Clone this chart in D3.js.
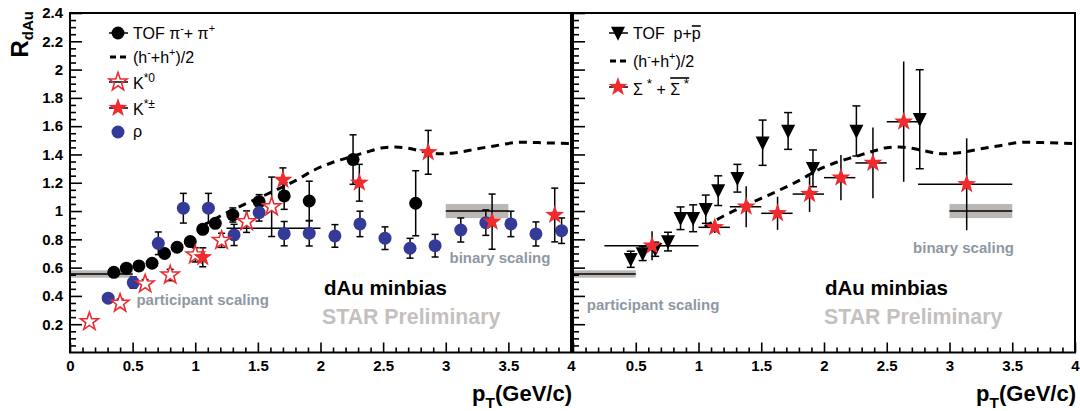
<!DOCTYPE html>
<html><head><meta charset="utf-8">
<script src="https://cdn.jsdelivr.net/npm/d3@7"></script>
<style>
body{margin:0;background:#fff}
svg{display:block}
text{font-family:"Liberation Sans",Arial,Helvetica,sans-serif}
</style>
</head><body>
<svg id="c" width="1080" height="411"></svg>
<script>
// ---------------- data ----------------
const xTicks = [0, 0.5, 1, 1.5, 2, 2.5, 3, 3.5, 4];
const xTickLabels = ["0", "0.5", "1", "1.5", "2", "2.5", "3", "3.5", "4"];
const yTicks = [0.2, 0.4, 0.6, 0.8, 1, 1.2, 1.4, 1.6, 1.8, 2, 2.2, 2.4];
const yTickLabels = ["0.2", "0.4", "0.6", "0.8", "1", "1.2", "1.4", "1.6", "1.8", "2", "2.2", "2.4"];

// left panel: TOF pi- + pi+
const pionPt  = [0.35, 0.45, 0.55, 0.655, 0.755, 0.855, 0.96, 1.06, 1.16, 1.30, 1.51, 1.71, 1.91, 2.26, 2.76];
const pionR   = [0.567, 0.596, 0.612, 0.631, 0.70, 0.744, 0.784, 0.871, 0.913, 0.972, 1.066, 1.107, 1.071, 1.364, 1.055];
const pionErr = [0.01, 0.01, 0.01, 0.01, 0.01, 0.01, 0.01, 0.015, 0.02, 0.05, 0.05, 0.095, 0.14, 0.175, 0.23];

// left panel: K*0 (open stars)
const k0Pt  = [0.155, 0.40, 0.60, 0.80, 1.00, 1.21, 1.41, 1.61];
const k0R   = [0.218, 0.348, 0.485, 0.548, 0.69, 0.793, 0.925, 1.03];
const k0Err = [0.02, 0.03, 0.03, 0.04, 0.05, 0.05, 0.076, 0.21];

// left panel: K*+- (filled stars)
const kpmPt  = [1.06, 1.70, 2.31, 2.86, 3.37, 3.87];
const kpmR   = [0.673, 1.22, 1.20, 1.415, 0.925, 0.972];
const kpmErr = [0.067, 0.085, 0.13, 0.155, 0.195, 0.19];

// left panel: wide-bin horizontal bar
const wideLo = [1.25];
const wideHi = [2.0];
const wideR  = [0.878];

// left panel: rho
const rhoPt  = [0.305, 0.505, 0.705, 0.905, 1.105, 1.31, 1.51, 1.71, 1.91, 2.115, 2.315, 2.515, 2.715, 2.915, 3.12, 3.32, 3.52, 3.72, 3.925];
const rhoR   = [0.384, 0.494, 0.772, 1.02, 1.02, 0.831, 0.989, 0.84, 0.843, 0.824, 0.909, 0.808, 0.737, 0.755, 0.866, 0.918, 0.909, 0.838, 0.861];
const rhoErr = [0.02, 0.04, 0.08, 0.105, 0.105, 0.075, 0.06, 0.086, 0.09, 0.08, 0.09, 0.08, 0.07, 0.08, 0.085, 0.09, 0.09, 0.085, 0.09];

// both panels: (h- + h+)/2
const hPt = [1.05, 1.2, 1.35, 1.5, 1.65, 1.8, 1.95, 2.1, 2.25, 2.4, 2.5, 2.6, 2.7, 2.8, 2.95, 3.1, 3.25, 3.4, 3.6, 3.8, 4.0];
const hR  = [0.89, 0.965, 1.03, 1.09, 1.15, 1.215, 1.29, 1.345, 1.385, 1.425, 1.448, 1.452, 1.444, 1.425, 1.405, 1.415, 1.44, 1.462, 1.487, 1.482, 1.477];

// right panel: TOF p + pbar
const protPt  = [0.46, 0.555, 0.655, 0.757, 0.857, 0.957, 1.058, 1.157, 1.31, 1.511, 1.714, 1.912, 2.258, 2.763];
const protR   = [0.659, 0.70, 0.73, 0.784, 0.949, 0.949, 1.013, 1.144, 1.232, 1.483, 1.566, 1.302, 1.566, 1.649];
const protErr = [0.057, 0.05, 0.05, 0.066, 0.08, 0.095, 0.1, 0.105, 0.098, 0.16, 0.13, 0.13, 0.177, 0.35];

// right panel: Sigma* + antiSigma*
const sigPt  = [0.63, 1.13, 1.38, 1.63, 1.885, 2.135, 2.39, 2.635, 3.137];
const sigLo  = [0.25, 1.0, 1.25, 1.5, 1.75, 2.0, 2.25, 2.5, 2.75];
const sigHi  = [1.0, 1.25, 1.5, 1.75, 2.0, 2.25, 2.5, 2.75, 3.5];
const sigR   = [0.755, 0.885, 1.031, 0.984, 1.12, 1.236, 1.34, 1.632, 1.189];
const sigErr = [0.103, 0.04, 0.145, 0.117, 0.126, 0.16, 0.25, 0.425, 0.325];

// scaling bands
const partBand = {lo: 0, hi: 0.5, r: 0.555, half: 0.026};
const binBand  = {lo: 3.0, hi: 3.5, r: 1.0, half: 0.05};

// ---------------- drawing ----------------
const svg = d3.select("#c");
const y = d3.scaleLinear().domain([0, 2.4]).range([352.5, 13]);
const xL = d3.scaleLinear().domain([0, 4]).range([70, 571]);
const xR = d3.scaleLinear().domain([0, 4]).range([573, 1075]);

const RED = "#ee2b2f", BLUE = "#343a98", BAND = "#bbb7b4", NOTE = "#8e98a3", PRELIM = "#c4c0bd";

function starPath(R) {
  const r = R * 0.4, p = [];
  for (let i = 0; i < 10; i++) {
    const a = -Math.PI / 2 + i * Math.PI / 5, rad = i % 2 ? r : R;
    p.push([rad * Math.cos(a), rad * Math.sin(a)]);
  }
  return "M" + p.map(q => q[0].toFixed(2) + "," + q[1].toFixed(2)).join("L") + "Z";
}
function triPath(w, h) {
  return `M${-w/2},${-h*0.45}L${w/2},${-h*0.45}L0,${h*0.55}Z`;
}

function richText(g, x, yy, parts, size, weight, color) {
  const t = g.append("text").attr("x", x).attr("y", yy)
    .style("font-size", size + "px").style("font-weight", weight || "normal")
    .attr("fill", color || "#000");
  let shift = 0;
  const overs = [];
  parts.forEach(p => {
    const want = p.s === "sup" ? -size * 0.42 : p.s === "sub" ? size * 0.3 : 0;
    const ts = t.append("tspan").text(p.t).attr("dy", want - shift)
      .style("font-size", (p.s ? size * (p.k || 0.68) : size) + "px");
    shift = want;
    if (p.o) overs.push({node: ts.node(), o: p.o});
  });
  return {t, overs};
}

function ticks(g, x, isLeft) {
  const minorX = d3.range(0, 41).map(i => i / 10).filter(v => Math.abs(v * 2 - Math.round(v * 2)) > 1e-6);
  const minorY = d3.range(1, 49).map(i => i / 20).filter(v => Math.abs(v * 5 - Math.round(v * 5)) > 1e-6);
  const ax = g.append("g").attr("transform", `translate(0,${y(0)})`)
    .call(d3.axisBottom(x).tickValues(xTicks).tickSize(-10).tickPadding(8)
      .tickFormat((d, i) => (!isLeft && i === 0) ? "" : xTickLabels[i]));
  const axm = g.append("g").attr("transform", `translate(0,${y(0)})`)
    .call(d3.axisBottom(x).tickValues(minorX).tickSize(-5).tickFormat(""));
  const ay = g.append("g").attr("transform", `translate(${x(0)},0)`)
    .call(d3.axisLeft(y).tickValues(yTicks).tickSize(-12).tickPadding(7)
      .tickFormat((d, i) => isLeft ? yTickLabels[i] : ""));
  const aym = g.append("g").attr("transform", `translate(${x(0)},0)`)
    .call(d3.axisLeft(y).tickValues(minorY).tickSize(-6).tickFormat(""));
  [ax, axm, ay, aym].forEach(a => {
    a.select(".domain").remove();
    a.selectAll("line").attr("stroke", "#000").attr("stroke-width", 1.6);
    a.selectAll("text").attr("fill", "#000").style("font-size", "15px").style("font-weight", "bold")
      .style("font-family", '"Liberation Sans",Arial,sans-serif');
  });
  g.append("rect").attr("x", x(0)).attr("y", y(2.4)).attr("width", x(4) - x(0)).attr("height", y(0) - y(2.4))
    .attr("fill", "none").attr("stroke", "#000").attr("stroke-width", 2);
  // x title
  const tt = richText(g, 0, 401, [{t: "p"}, {t: "T", s: "sub", k: 0.7}, {t: "(GeV/c)"}], 22, "bold");
  tt.t.attr("text-anchor", "end").attr("x", x(4) + 1);
}

function band(g, x, b) {
  g.append("rect").attr("x", x(b.lo)).attr("width", x(b.hi) - x(b.lo))
    .attr("y", y(b.r + b.half)).attr("height", y(b.r - b.half) - y(b.r + b.half)).attr("fill", BAND);
  g.append("line").attr("x1", x(b.lo)).attr("x2", x(b.hi)).attr("y1", y(b.r)).attr("y2", y(b.r))
    .attr("stroke", "#000").attr("stroke-width", 1.5);
}

function errBars(g, x, pts, vals, errs, cap) {
  const gg = g.append("g").attr("stroke", "#000").attr("stroke-width", 1.5);
  pts.forEach((p, i) => {
    const X = x(p), y1 = y(vals[i] + errs[i]), y2 = y(vals[i] - errs[i]);
    gg.append("line").attr("x1", X).attr("x2", X).attr("y1", y1).attr("y2", y2);
    if (cap) {
      gg.append("line").attr("x1", X - cap / 2).attr("x2", X + cap / 2).attr("y1", y1).attr("y2", y1);
      gg.append("line").attr("x1", X - cap / 2).attr("x2", X + cap / 2).attr("y1", y2).attr("y2", y2);
    }
  });
}

function hLine(g, x) {
  const line = d3.line().x((d, i) => x(hPt[i])).y((d, i) => y(hR[i])).curve(d3.curveMonotoneX);
  g.append("path").attr("d", line(hPt)).attr("fill", "none").attr("stroke", "#000")
    .attr("stroke-width", 3).attr("stroke-dasharray", "8,6");
}

// ---------- left panel ----------
const L = svg.append("g");
band(L, xL, partBand);
band(L, xL, binBand);
hLine(L, xL);
wideLo.forEach((lo, i) => {
  L.append("line").attr("x1", xL(lo)).attr("x2", xL(wideHi[i])).attr("y1", y(wideR[i])).attr("y2", y(wideR[i]))
    .attr("stroke", "#000").attr("stroke-width", 1.5);
});
errBars(L, xL, pionPt, pionR, pionErr, 7);
L.append("g").selectAll("circle").data(pionPt).join("circle")
  .attr("cx", d => xL(d)).attr("cy", (d, i) => y(pionR[i])).attr("r", 6.5).attr("fill", "#000");
errBars(L, xL, rhoPt, rhoR, rhoErr, 7);
L.append("g").selectAll("circle").data(rhoPt).join("circle")
  .attr("cx", d => xL(d)).attr("cy", (d, i) => y(rhoR[i])).attr("r", 6.5).attr("fill", BLUE);
errBars(L, xL, k0Pt, k0R, k0Err, 7);
L.append("g").selectAll("path").data(k0Pt).join("path")
  .attr("d", starPath(9.5)).attr("transform", (d, i) => `translate(${xL(d)},${y(k0R[i])})`)
  .attr("fill", "#fff").attr("stroke", RED).attr("stroke-width", 1.6);
errBars(L, xL, kpmPt, kpmR, kpmErr, 7);
L.append("g").selectAll("path").data(kpmPt).join("path")
  .attr("d", starPath(10)).attr("transform", (d, i) => `translate(${xL(d)},${y(kpmR[i])})`)
  .attr("fill", RED);

ticks(L, xL, true);

// left legend
(function () {
  const mx = 118, tx = 133, rows = [33, 57, 82, 108, 132];
  const lg = L.append("g");
  [0, 2, 3].forEach(k => lg.append("line").attr("x1", 109).attr("x2", 128).attr("y1", rows[k]).attr("y2", rows[k])
    .attr("stroke", "#000").attr("stroke-width", 1.5));
  lg.append("circle").attr("cx", mx).attr("cy", rows[0]).attr("r", 6.5).attr("fill", "#000");
  lg.append("line").attr("x1", 110).attr("x2", 127).attr("y1", rows[1]).attr("y2", rows[1])
    .attr("stroke", "#000").attr("stroke-width", 3).attr("stroke-dasharray", "6,4");
  lg.append("path").attr("d", starPath(9.5)).attr("transform", `translate(${mx},${rows[2]})`)
    .attr("fill", "none").attr("stroke", RED).attr("stroke-width", 1.6);
  lg.append("path").attr("d", starPath(10)).attr("transform", `translate(${mx},${rows[3]})`).attr("fill", RED);
  lg.append("circle").attr("cx", mx).attr("cy", rows[4]).attr("r", 6.5).attr("fill", BLUE);
  const fs = 16;
  richText(lg, tx, rows[0] + 6, [{t: "TOF π"}, {t: "-", s: "sup"}, {t: "+ π"}, {t: "+", s: "sup"}], fs);
  richText(lg, tx, rows[1] + 6, [{t: "(h"}, {t: "-", s: "sup"}, {t: "+h"}, {t: "+", s: "sup"}, {t: ")/2"}], fs);
  richText(lg, tx, rows[2] + 7, [{t: "K"}, {t: "*0", s: "sup", k: 0.75}], fs);
  richText(lg, tx, rows[3] + 7, [{t: "K"}, {t: "*±", s: "sup", k: 0.75}], fs);
  richText(lg, tx, rows[4] + 5, [{t: "ρ"}], fs);
})();

// left notes
L.append("text").attr("x", xL(0.53)).attr("y", 305).text("participant scaling")
  .style("font-size", "15px").style("font-weight", "bold").attr("fill", NOTE);
L.append("text").attr("x", xL(3.03)).attr("y", 263).text("binary scaling")
  .style("font-size", "15px").style("font-weight", "bold").attr("fill", NOTE);
L.append("text").attr("x", 324).attr("y", 295).text("dAu minbias")
  .style("font-size", "20.5px").style("font-weight", "bold").attr("fill", "#000");
L.append("text").attr("x", 322).attr("y", 324).text("STAR Preliminary")
  .style("font-size", "21.3px").style("font-weight", "bold").attr("fill", PRELIM);

// y title
(function () {
  const t = svg.append("text").attr("transform", "translate(28,11) rotate(-90)").attr("text-anchor", "end")
    .style("font-weight", "bold");
  t.append("tspan").text("R").style("font-size", "24px");
  t.append("tspan").text("dAu").style("font-size", "15px").attr("dy", 5);
})();

// ---------- right panel ----------
const Rg = svg.append("g");
band(Rg, xR, partBand);
band(Rg, xR, binBand);
hLine(Rg, xR);
errBars(Rg, xR, protPt, protR, protErr, 8);
Rg.append("g").selectAll("path").data(protPt).join("path")
  .attr("d", triPath(14, 14)).attr("transform", (d, i) => `translate(${xR(d)},${y(protR[i])})`).attr("fill", "#000");
(function () {
  const gg = Rg.append("g").attr("stroke", "#000").attr("stroke-width", 1.5);
  sigPt.forEach((p, i) => {
    gg.append("line").attr("x1", xR(sigLo[i])).attr("x2", xR(sigHi[i])).attr("y1", y(sigR[i])).attr("y2", y(sigR[i]));
    gg.append("line").attr("x1", xR(p)).attr("x2", xR(p)).attr("y1", y(sigR[i] + sigErr[i])).attr("y2", y(sigR[i] - sigErr[i]));
  });
})();
Rg.append("g").selectAll("path").data(sigPt).join("path")
  .attr("d", starPath(10)).attr("transform", (d, i) => `translate(${xR(d)},${y(sigR[i])})`).attr("fill", RED);

ticks(Rg, xR, false);

// right legend
(function () {
  const mx = 618, tx = 633, rows = [33, 61, 87];
  const lg = Rg.append("g");
  [0, 2].forEach(k => lg.append("line").attr("x1", 609).attr("x2", 628).attr("y1", rows[k]).attr("y2", rows[k])
    .attr("stroke", "#000").attr("stroke-width", 1.5));
  lg.append("path").attr("d", triPath(14, 14)).attr("transform", `translate(${mx},${rows[0]})`).attr("fill", "#000");
  lg.append("line").attr("x1", 610).attr("x2", 627).attr("y1", rows[1]).attr("y2", rows[1])
    .attr("stroke", "#000").attr("stroke-width", 3).attr("stroke-dasharray", "6,4");
  lg.append("path").attr("d", starPath(10)).attr("transform", `translate(${mx},${rows[2]})`).attr("fill", RED);
  const fs = 16;
  const a = richText(lg, tx, rows[0] + 6, [{t: "TOF\u00a0\u00a0p+"}, {t: "p", o: 1}], fs);
  richText(lg, tx, rows[1] + 6, [{t: "(h"}, {t: "-", s: "sup"}, {t: "+h"}, {t: "+", s: "sup"}, {t: ")/2"}], fs);
  const b = richText(lg, tx, rows[2] + 8, [{t: "Σ"}, {t: " *", s: "sup", k: 0.85}, {t: " + "}, {t: "Σ", o: 1}, {t: " *", s: "sup", k: 0.85, o: 1}], fs);
  function over(list, yy) {
    const nodes = list.map(o => o.node);
    const x1 = nodes[0].getStartPositionOfChar(0).x;
    const last = nodes[nodes.length - 1];
    const x2 = last.getEndPositionOfChar(last.getNumberOfChars() - 1).x;
    lg.append("line").attr("x1", x1).attr("x2", x2).attr("y1", yy).attr("y2", yy)
      .attr("stroke", "#000").attr("stroke-width", 1.6);
  }
  over(a.overs, rows[0] - 7);
  over(b.overs, rows[2] - 9);
})();

// right notes
Rg.append("text").attr("x", xR(0.11)).attr("y", 310).text("participant scaling")
  .style("font-size", "15px").style("font-weight", "bold").attr("fill", NOTE);
Rg.append("text").attr("x", xR(2.71)).attr("y", 253).text("binary scaling")
  .style("font-size", "15px").style("font-weight", "bold").attr("fill", NOTE);
Rg.append("text").attr("x", 825).attr("y", 295).text("dAu minbias")
  .style("font-size", "20.5px").style("font-weight", "bold").attr("fill", "#000");
Rg.append("text").attr("x", 824).attr("y", 324).text("STAR Preliminary")
  .style("font-size", "21.3px").style("font-weight", "bold").attr("fill", PRELIM);
</script>
</body></html>
